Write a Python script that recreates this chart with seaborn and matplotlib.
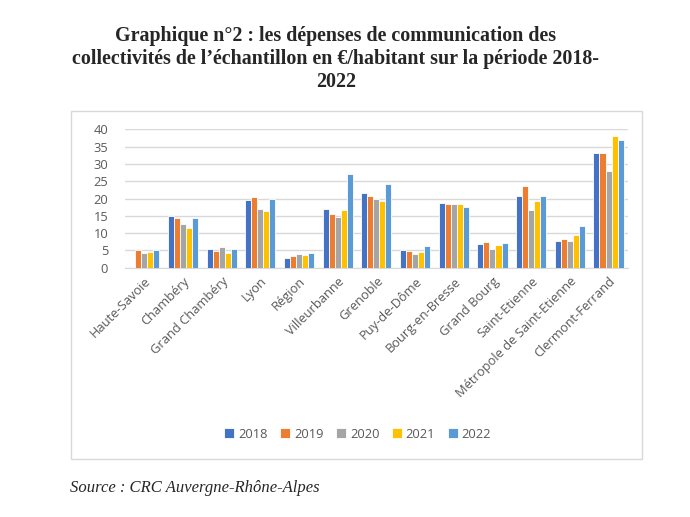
import pandas as pd
import numpy as np
import matplotlib
matplotlib.use("Agg")
import matplotlib.pyplot as plt
import seaborn as sns
from matplotlib.patches import Rectangle

#Categories and yearly values (euros per inhabitant)
communes = ["Haute-Savoie", "Chambéry", "Grand Chambéry", "Lyon", "Région", "Villeurbanne",
            "Grenoble", "Puy-de-Dôme", "Bourg-en-Bresse", "Grand Bourg", "Saint-Etienne",
            "Métropole de Saint-Etienne", "Clermont-Ferrand"]
years = ["2018", "2019", "2020", "2021", "2022"]
v2018 = [np.nan, 15.1, 5.4, 19.7, 2.8, 17.0, 21.6, 5.1, 18.7, 6.9, 20.8, 7.8, 33.0]
v2019 = [5.1, 14.4, 4.8, 20.5, 3.4, 15.5, 20.7, 4.9, 18.3, 7.5, 23.5, 8.2, 33.0]
v2020 = [4.4, 12.7, 5.9, 16.9, 4.1, 14.8, 19.8, 4.0, 18.3, 5.3, 16.7, 7.7, 27.9]
v2021 = [4.5, 11.6, 4.2, 16.5, 3.7, 16.7, 19.4, 4.6, 18.4, 6.6, 19.4, 9.6, 38.0]
v2022 = [5.0, 14.3, 5.4, 19.8, 4.2, 27.1, 24.3, 6.2, 17.5, 7.3, 20.8, 12.0, 37.0]
colors = ["#4472C4", "#ED7D31", "#A5A5A5", "#FFC000", "#5B9BD5"]

#Build a long DataFrame for seaborn
rows = []
for year, vals in zip(years, [v2018, v2019, v2020, v2021, v2022]):
    for c, v in zip(communes, vals):
        rows.append({"commune": c, "year": year, "value": v})
df = pd.DataFrame(rows)

sns.set_style("white")
plt.rcParams['font.family'] = ['Open Sans', 'DejaVu Sans']

fig = plt.figure(figsize=(6.9, 5.17), dpi=100)
ax = fig.add_axes([0.181, 0.482, 0.729, 0.268])

sns.barplot(data=df, x="commune", y="value", hue="year", palette=colors, saturation=1,
            width=0.78, edgecolor="white", linewidth=0.6, ax=ax, zorder=3)

ax.set_ylim(0, 40)
ax.set_yticks(range(0, 41, 5))
ax.set_xlim(-0.5, len(communes) - 0.5)
ax.grid(axis="y", color="#D9D9D9", linewidth=1, zorder=0)
for s in ["top", "right", "left"]:
    ax.spines[s].set_visible(False)
ax.spines["bottom"].set_color("#D9D9D9")
ax.set_xlabel("")
ax.set_ylabel("")
ax.tick_params(axis="both", length=0, labelsize=9.3, colors="#595959")
ax.tick_params(axis="y", pad=12)
ax.tick_params(axis="x", pad=5)
plt.setp(ax.get_xticklabels(), rotation=45, ha="right", rotation_mode="anchor")

ax.legend(loc="center", bbox_to_anchor=(0.463, -1.20), ncol=5, frameon=False,
          fontsize=9.3, handlelength=0.75, handleheight=0.75, columnspacing=1.0,
          handletextpad=0.3, labelcolor="#595959")

#Chart border
fig.patches.append(Rectangle((71 / 690, 1 - 459 / 517), 571 / 690, 348 / 517,
                             transform=fig.transFigure, fill=False,
                             edgecolor="#D9D9D9", linewidth=1))

title = ("Graphique n°2 : les dépenses de communication des\n"
         "collectivités de l’échantillon en €/habitant sur la période 2018-\n2022")
fig.text(336 / 690, 1 - 26 / 517, title, ha="center", va="top", fontsize=14.4, fontweight="bold",
         family=["Liberation Serif", "DejaVu Serif"], linespacing=1.2)
fig.text(70 / 690, 1 - 488 / 517, "Source : CRC Auvergne-Rhône-Alpes", ha="left", va="center",
         fontsize=12, style="italic", family=["Liberation Serif", "DejaVu Serif"])

plt.savefig("out.png", dpi=100)
